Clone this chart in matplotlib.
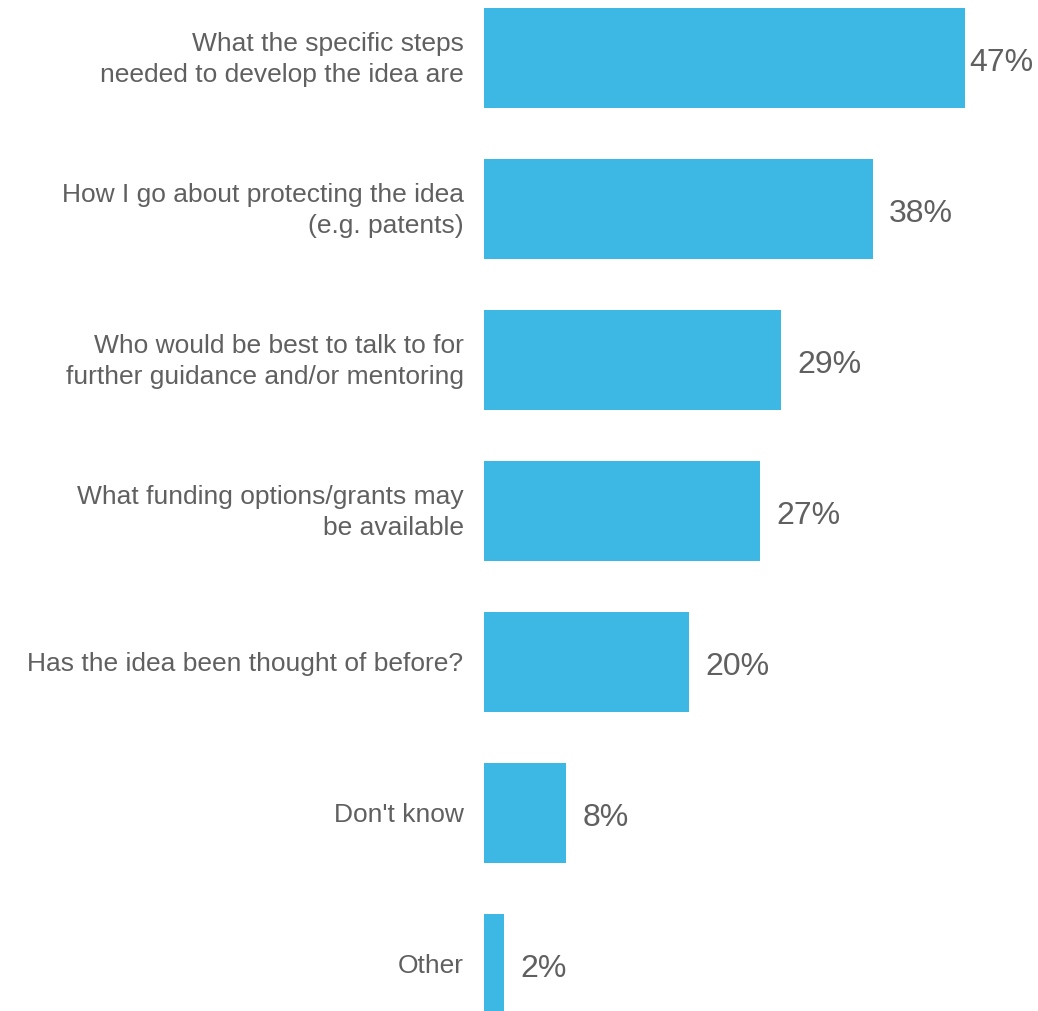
import numpy as np
import matplotlib.pyplot as plt

categories = [
    "What the specific steps\nneeded to develop the idea are",
    "How I go about protecting the idea\n(e.g. patents)",
    "Who would be best to talk to for\nfurther guidance and/or mentoring",
    "What funding options/grants may\nbe available",
    "Has the idea been thought of before?",
    "Don't know",
    "Other",
]
values = [47, 38, 29, 27, 20, 8, 2]

bar_color = "#3DB8E4"
text_color = "#606060"

plt.rcParams["font.family"] = ["Liberation Sans", "DejaVu Sans"]

fig = plt.figure(figsize=(10.38, 10.11), dpi=100)
# axes starts at the bar baseline; 0..50 spans ~511 px
ax = fig.add_axes([484 / 1038, 0, 511.5 / 1038, 1])

y = np.arange(len(values))
ax.barh(y, values, height=100 / 151, color=bar_color)
ax.set_xlim(0, 50)
ax.set_ylim((1011 - 58) / 151, -58 / 151)

for yi, v in zip(y, values):
    # the longest bar gets its label tucked in closer
    pad = 0.45 if v == max(values) else 1.6
    ax.text(v + pad, yi + 0.035, f"{v}%", va="center", ha="left",
            fontsize=23, color=text_color, clip_on=False)

for yi, lab in zip(y, categories):
    ax.text(-2.0, yi + 0.012, lab, va="center", ha="right", fontsize=19,
            color=text_color, linespacing=1.38, clip_on=False)

ax.axis("off")
fig.savefig("out.png", dpi=100)
